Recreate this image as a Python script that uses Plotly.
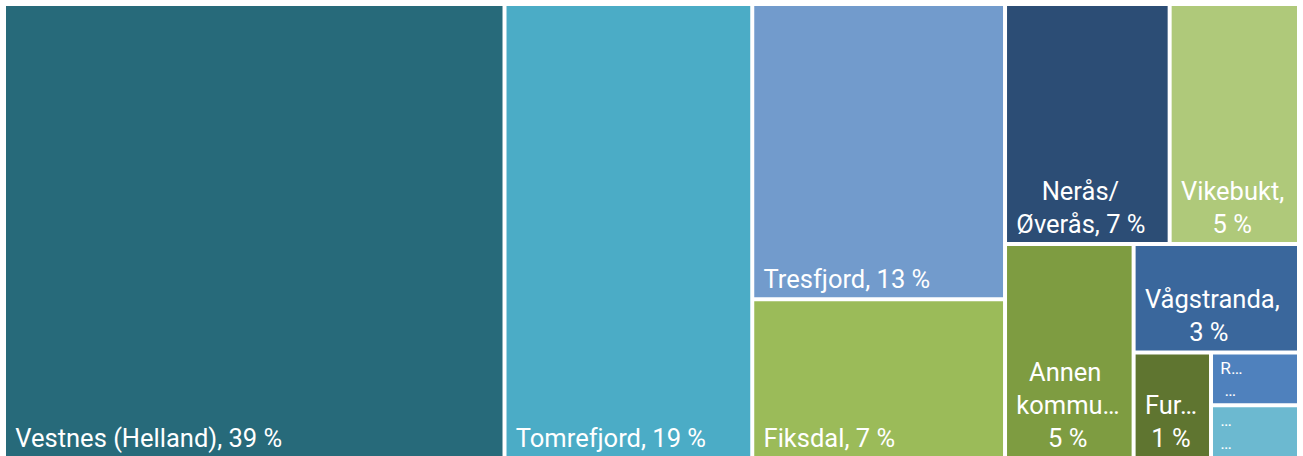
import plotly.graph_objects as go

ids = ["Vestnes (Helland)", "Tomrefjord", "Tresfjord", "Fiksdal", "Nerås/Øverås",
       "Vikebukt", "Annen kommune", "Vågstranda", "Fur", "R", "Annet"]
shares = [38.65, 19.13, 12.69, 6.83, 6.72, 5.28, 4.68, 3.05, 1.39, 0.79, 0.79]
# displayed label lines (as in the reference, incl. truncation)
label_lines = [["Vestnes (Helland), 39 %"], ["Tomrefjord, 19 %"], ["Tresfjord, 13 %"],
               ["Fiksdal, 7 %"], ["Nerås/", "Øverås, 7 %"], ["Vikebukt,", "5 %"],
               ["Annen", "kommu…", "5 %"], ["Vågstranda,", "3 %"], ["Fur…", "1 %"],
               ["R…", "…"], ["…", "…"]]
# extra indent (in non-breaking spaces) per line to mimic centred lines
indents = [[0], [0], [0], [0], [4, 0], [0, 5], [2, 0, 5], [0, 7], [0, 1], [0, 1], [0, 0]]
colors = ["#276a7a", "#4bacc6", "#729bcc", "#9bbb59", "#2c4d75", "#afc97a",
          "#7e9c41", "#3a679c", "#5f7530", "#4f81bd", "#6cb9d0"]

NB = "\u00a0"
shown = ["<br>".join(NB * (1 + k) + line for line, k in zip(lines, ind))
         for lines, ind in zip(label_lines, indents)]

fig = go.Figure(go.Treemap(
    ids=ids,
    labels=ids,
    parents=[""] * len(ids),
    values=shares,
    text=shown,
    texttemplate="%{text}",
    textposition="bottom left",
    sort=False,
    tiling=dict(packing="squarify", pad=4),
    marker=dict(colors=colors, line=dict(width=0), pad=dict(t=0, l=0, r=0, b=0)),
    textfont=dict(family="Roboto", size=25.5, color="white"),
    pathbar=dict(visible=False),
    hoverinfo="label+value",
))
fig.update_layout(
    width=1303, height=456,
    margin=dict(l=6, r=6, t=6, b=0),
    paper_bgcolor="white",
)
fig.write_html("out.html")
